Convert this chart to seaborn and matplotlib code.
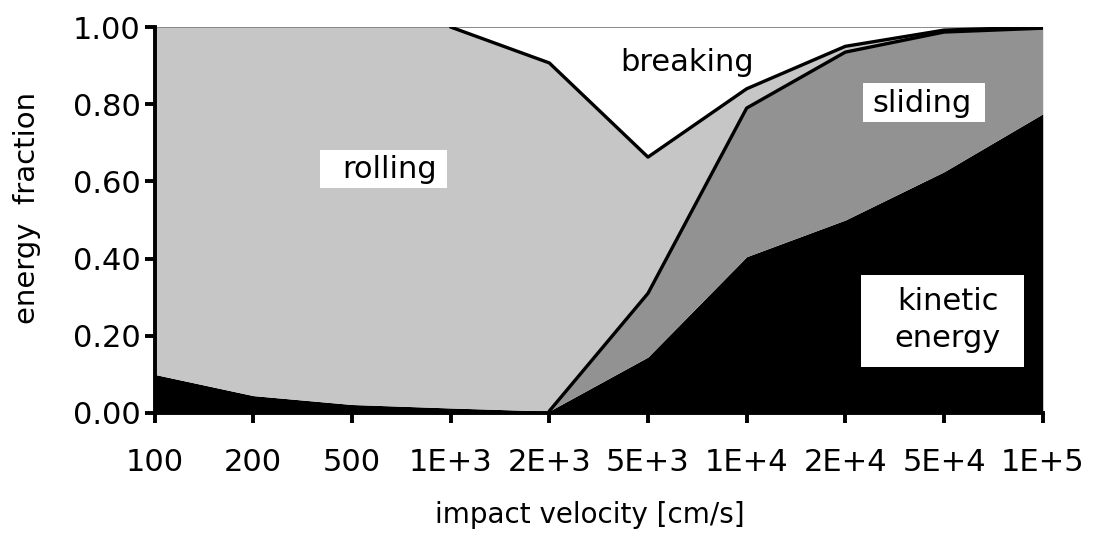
import matplotlib
matplotlib.use("Agg")
import matplotlib.pyplot as plt
from matplotlib.patches import Rectangle
import seaborn as sns
import numpy as np
import pandas as pd

categories = ["100", "200", "500", "1E+3", "2E+3", "5E+3", "1E+4", "2E+4", "5E+4", "1E+5"]
kinetic = [0.10, 0.045, 0.022, 0.013, 0.005, 0.145, 0.405, 0.50, 0.625, 0.775]
sliding = [0.0, 0.0, 0.0, 0.0, 0.0, 0.165, 0.385, 0.435, 0.362, 0.222]
rolling = [0.90, 0.955, 0.978, 0.987, 0.902, 0.353, 0.05, 0.015, 0.005, 0.003]
breaking = [0.0, 0.0, 0.0, 0.0, 0.093, 0.337, 0.16, 0.05, 0.008, 0.0]
yticks = [0.0, 0.2, 0.4, 0.6, 0.8, 1.0]
ytick_labels = ["0.00", "0.20", "0.40", "0.60", "0.80", "1.00"]

sns.set_theme(style="ticks")
plt.rcParams['font.family'] = ['DejaVu Sans']
plt.rcParams['text.color'] = 'black'
plt.rcParams['axes.labelcolor'] = 'black'

x = np.arange(len(categories))
k = np.array(kinetic)
s = k + np.array(sliding)
r = s + np.array(rolling)
b = r + np.array(breaking)

df = pd.DataFrame({"x": x, "kinetic": k, "sliding": s, "rolling": r})

fig = plt.figure(figsize=(11.2, 5.46), dpi=100)
ax = fig.add_axes([0.138, 0.2436, 0.931 - 0.138, 0.9505 - 0.2436])

ax.fill_between(x, 0, k, color="black", linewidth=0)
ax.fill_between(x, k, s, color="#929292", linewidth=0)
ax.fill_between(x, s, r, color="#c6c6c6", linewidth=0)
ax.fill_between(x, r, b, color="white", linewidth=0)
ax.plot([x[0], x[-1]], [1.0, 1.0], color="#808080", lw=1.3)

sns.lineplot(data=df.iloc[4:], x="x", y="sliding", color="black", lw=2.4, ax=ax, sort=False)
sns.lineplot(data=df.iloc[3:], x="x", y="rolling", color="black", lw=2.4, ax=ax, sort=False)

ax.set_xlim(x[0], x[-1])
ax.set_ylim(0, 1.0)
ax.set_xticks(x)
ax.set_xticklabels(categories, fontsize=22)
ax.set_yticks(yticks)
ax.set_yticklabels(ytick_labels, fontsize=22)
ax.set_xlabel("impact velocity [cm/s]", fontsize=20, color="black")
ax.set_ylabel("energy  fraction", fontsize=21, color="black")
ax.xaxis.set_label_coords(0.49, -0.228)
ax.yaxis.set_label_coords(-0.128, 0.531)

for side in ["top", "right"]:
    ax.spines[side].set_visible(False)
for side in ["left", "bottom"]:
    ax.spines[side].set_linewidth(2.8)
    ax.spines[side].set_color("black")
ax.tick_params(axis="both", direction="out", length=7, width=2.8, colors="black",
               labelcolor="black")
ax.tick_params(axis="x", pad=18)
ax.tick_params(axis="y", pad=3)

# white label boxes
for (x0, x1, y0, y1) in [(1.672, 2.959, 0.583, 0.681),
                         (7.176, 8.412, 0.754, 0.855),
                         (7.155, 8.807, 0.1195, 0.3575)]:
    ax.add_patch(Rectangle((x0, y0), x1 - x0, y1 - y0, facecolor="white",
                           edgecolor="none", zorder=5))

ax.text(2.38, 0.632, "rolling", fontsize=22, ha="center", va="center", zorder=6, color="black")
ax.text(5.40, 0.907, "breaking", fontsize=22, ha="center", va="center", zorder=6, color="black")
ax.text(7.78, 0.803, "sliding", fontsize=22, ha="center", va="center", zorder=6, color="black")
ax.text(8.04, 0.24, "kinetic\nenergy", fontsize=22, ha="center", va="center",
        linespacing=1.35, zorder=6, color="black")

fig.savefig("out.png", dpi=100)
